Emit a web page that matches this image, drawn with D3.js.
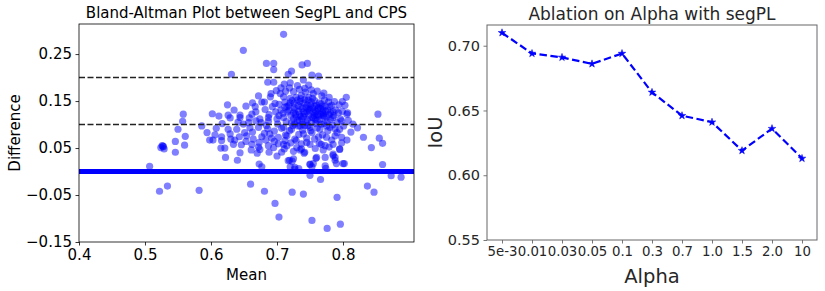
<!DOCTYPE html>
<html>
<head>
<meta charset="utf-8">
<script src="https://cdn.jsdelivr.net/npm/d3@7"></script>
<style>
  body { margin: 0; background: #fff; }
  text { font-family: "DejaVu Sans", sans-serif; }
</style>
</head>
<body>
<script>
var w = 825;
var h = 291;

// Bland-Altman data: [mean, difference]
var baPoints = [
  [0.558,0.122],[0.557,0.107],[0.550,0.090],[0.561,0.075],[0.546,0.064],[0.560,0.056],
  [0.527,0.054],[0.526,0.055],[0.528,0.053],[0.524,0.051],[0.529,0.048],[0.546,0.041],
  [0.507,0.011],[0.534,-0.031],[0.522,-0.042],[0.582,-0.040],
  [0.853,0.122],[0.822,0.093],[0.831,0.073],[0.855,0.071],[0.860,0.060],[0.843,0.051],
  [0.860,0.015],[0.873,-0.009],[0.888,-0.012],[0.837,-0.031],[0.847,-0.044],
  [0.710,0.292],[0.649,0.258],
  [0.660,-0.027],[0.681,-0.042],[0.697,-0.068],[0.703,-0.097],[0.723,-0.044],[0.740,-0.048],
  [0.750,-0.008],[0.766,-0.017],[0.791,-0.055],[0.753,-0.104],[0.776,-0.121],[0.796,-0.112],
  [0.673,0.016],[0.677,0.010],[0.720,0.010],[0.723,0.022],[0.727,0.005],[0.750,0.015],
  [0.755,0.017],[0.774,0.007],[0.788,0.024],[0.790,0.017],[0.802,0.017],[0.733,0.006],
  [0.622,0.030],[0.640,0.024],[0.644,0.040],[0.670,0.039],[0.674,0.047],[0.700,0.033],
  [0.707,0.041],[0.725,0.043],[0.719,0.024],[0.735,0.046],[0.741,0.039],[0.759,0.028],
  [0.770,0.046],[0.773,0.030],[0.785,0.037],[0.788,0.030],[0.795,0.047],
  [0.684,0.230],[0.695,0.230],[0.695,0.217],[0.631,0.207],[0.686,0.190],[0.695,0.190],
  [0.738,0.227],[0.746,0.230],[0.722,0.214],[0.717,0.207],[0.753,0.205],[0.763,0.203],
  [0.711,0.186],[0.720,0.189],[0.740,0.195],[0.748,0.184],[0.805,0.158],[0.807,0.125],
  [0.626,0.120],[0.644,0.120],[0.662,0.122],[0.653,0.139],[0.663,0.146],[0.672,0.161],
  [0.690,0.159],[0.677,0.148],[0.697,0.145],
  [0.629,0.114],[0.644,0.115],[0.658,0.114],[0.674,0.112],[0.687,0.115],[0.700,0.112],
  [0.626,0.090],[0.639,0.090],[0.594,0.083],[0.606,0.078],[0.616,0.074],[0.603,0.067],
  [0.616,0.066],[0.630,0.069],[0.643,0.074],[0.654,0.076],[0.664,0.069],[0.677,0.074],
  [0.689,0.080],[0.702,0.073],[0.646,0.057],[0.662,0.058],[0.673,0.062],[0.687,0.055],
  [0.695,0.051],[0.615,0.050],[0.621,0.050],[0.634,0.058],[0.629,0.080],[0.659,0.093],
  [0.672,0.094],[0.684,0.098],[0.649,0.101],
  [0.710,0.115],[0.725,0.112],[0.740,0.117],[0.755,0.114],[0.770,0.119],[0.785,0.115],
  [0.798,0.108],[0.806,0.122],[0.710,0.094],[0.722,0.090],[0.735,0.097],[0.750,0.094],
  [0.765,0.090],[0.780,0.094],[0.795,0.090],[0.715,0.076],[0.727,0.069],[0.740,0.080],
  [0.753,0.083],[0.763,0.074],[0.775,0.073],[0.788,0.076],[0.798,0.073],[0.710,0.058],
  [0.715,0.055],[0.730,0.051],[0.737,0.048],[0.750,0.058],[0.764,0.060],[0.773,0.055],
  [0.785,0.058],[0.795,0.048],[0.742,0.041],[0.760,0.030],
  [0.785,0.034],[0.717,0.023],[0.725,0.027],[0.750,0.016],[0.773,0.012],[0.800,0.017],
  [0.727,0.009],[0.753,0.010],
  [0.725,0.170],[0.734,0.175],[0.743,0.169],[0.755,0.166],[0.768,0.161],[0.778,0.148],
  [0.780,0.138],[0.785,0.127],[0.770,0.131],[0.760,0.141],[0.747,0.152],[0.735,0.149],
  [0.720,0.156],[0.710,0.159],[0.715,0.138],[0.727,0.131],[0.745,0.127],[0.758,0.124],
  [0.705,0.166],
  [0.682,0.132],[0.688,0.121],[0.693,0.138],[0.698,0.127],[0.703,0.143],[0.706,0.131],
  [0.709,0.124],[0.712,0.148],[0.714,0.106],[0.716,0.127],[0.718,0.141],[0.721,0.119],
  [0.723,0.151],[0.724,0.098],[0.726,0.136],[0.728,0.122],[0.729,0.158],[0.731,0.109],
  [0.732,0.141],[0.733,0.128],[0.736,0.117],[0.737,0.162],[0.738,0.134],[0.739,0.101],
  [0.741,0.146],[0.742,0.123],[0.744,0.137],[0.746,0.111],[0.748,0.158],[0.749,0.129],
  [0.751,0.142],[0.752,0.104],[0.754,0.135],[0.756,0.119],[0.757,0.151],[0.759,0.128],
  [0.761,0.109],[0.762,0.133],[0.764,0.146],[0.766,0.122],[0.767,0.101],[0.769,0.139],
  [0.771,0.117],[0.772,0.152],[0.774,0.128],[0.776,0.106],[0.777,0.131],[0.779,0.121],
  [0.781,0.111],[0.783,0.141],[0.784,0.099],[0.786,0.119],[0.789,0.131],[0.791,0.104],
  [0.793,0.125],[0.796,0.112],[0.799,0.128],[0.801,0.097],[0.803,0.141],[0.808,0.109],
  [0.812,0.084],[0.815,0.101],[0.806,0.067],[0.798,0.061],[0.791,0.083],[0.783,0.067],
  [0.777,0.087],[0.769,0.078],[0.761,0.093],[0.757,0.069],[0.751,0.087],[0.745,0.071],
  [0.739,0.088],[0.733,0.079],[0.727,0.101],[0.719,0.087],[0.713,0.078],[0.707,0.092],
  [0.701,0.101],[0.696,0.086],[0.692,0.071],[0.686,0.091],[0.681,0.081],[0.676,0.104],
  [0.668,0.108],[0.663,0.084],[0.657,0.104],[0.651,0.083],[0.641,0.105],[0.636,0.067],
  [0.668,0.127],[0.681,0.148],[0.691,0.166],[0.699,0.172],[0.706,0.178],[0.713,0.171],
  [0.719,0.178],[0.731,0.183],[0.742,0.177],[0.752,0.174],[0.761,0.171],[0.771,0.167],
  [0.779,0.158],[0.787,0.149],[0.794,0.142],[0.799,0.149],[0.702,0.059],[0.696,0.064],
  [0.712,0.066],[0.721,0.061],[0.745,0.062],[0.767,0.058],[0.779,0.052],[0.758,0.049],
  [0.711,0.048],[0.688,0.041],[0.661,0.046],[0.683,0.067],[0.672,0.052],[0.653,0.064],
  [0.667,0.138],[0.687,0.107],[0.734,0.108],[0.747,0.098],[0.763,0.118],[0.775,0.097],
  [0.788,0.091],[0.729,0.066],[0.737,0.059],[0.617,0.102],[0.608,0.092],[0.598,0.067],
  [0.586,0.097],[0.612,0.118],[0.635,0.131],[0.625,0.142],[0.602,0.123],
  [0.718,0.131],[0.722,0.104],[0.726,0.145],[0.729,0.116],[0.731,0.152],[0.734,0.121],
  [0.736,0.138],[0.738,0.112],[0.740,0.127],[0.742,0.153],[0.744,0.105],[0.746,0.142],
  [0.748,0.119],[0.750,0.133],[0.752,0.148],[0.753,0.115],[0.755,0.127],[0.757,0.139],
  [0.759,0.102],[0.761,0.121],[0.763,0.136],[0.765,0.111],[0.767,0.144],[0.769,0.126],
  [0.771,0.102],[0.773,0.139],[0.775,0.116],[0.720,0.146],[0.732,0.097],[0.747,0.134],
  [0.758,0.111],[0.770,0.123],[0.742,0.098],[0.725,0.125],[0.736,0.155],[0.754,0.156],
  [0.766,0.134],[0.781,0.125],[0.712,0.137],[0.703,0.119]
];
var baMeanLine = 0.0;
var baLimits = [0.2, 0.1];
var baXTicks = [0.4, 0.5, 0.6, 0.7, 0.8];
var baYTicks = [-0.15, -0.05, 0.05, 0.15, 0.25];

// ablation data
var alphas = ["5e-3", "0.01", "0.03", "0.05", "0.1", "0.3", "0.7", "1.0", "1.5", "2.0", "10"];
var iou = [0.710, 0.694, 0.691, 0.686, 0.694, 0.664, 0.646, 0.641, 0.619, 0.636, 0.613];
var iouTicks = [0.55, 0.60, 0.65, 0.70];

var svg = d3.select("body")
  .append("svg")
  .attr("width", w)
  .attr("height", h);

// ---------- left: Bland-Altman ----------
var L = {left: 79, right: 414, top: 24, bottom: 242};
var x1 = d3.scaleLinear().domain([0.4, 0.9076]).range([L.left, L.right]);
var y1 = d3.scaleLinear().domain([-0.15, 0.314]).range([L.bottom, L.top]);

var left = svg.append("g");

left.append("defs").append("clipPath").attr("id", "clipL")
  .append("rect")
  .attr("x", L.left).attr("y", L.top)
  .attr("width", L.right - L.left).attr("height", L.bottom - L.top);

var plotL = left.append("g").attr("clip-path", "url(#clipL)");

plotL.selectAll("circle")
  .data(baPoints)
  .enter()
  .append("circle")
  .attr("cx", function(d) { return x1(d[0]); })
  .attr("cy", function(d) { return y1(d[1]); })
  .attr("r", 3.6)
  .attr("fill", "blue")
  .attr("fill-opacity", 0.5);

plotL.append("line")
  .attr("x1", L.left).attr("x2", L.right)
  .attr("y1", y1(baMeanLine)).attr("y2", y1(baMeanLine))
  .attr("stroke", "blue")
  .attr("stroke-width", 5);

plotL.selectAll(".limit")
  .data(baLimits)
  .enter()
  .append("line")
  .attr("class", "limit")
  .attr("x1", L.left).attr("x2", L.right)
  .attr("y1", function(d) { return y1(d); })
  .attr("y2", function(d) { return y1(d); })
  .attr("stroke", "#222")
  .attr("stroke-width", 1.5)
  .attr("stroke-dasharray", "6,2.5");

var axL = left.append("g")
  .attr("transform", "translate(0," + L.bottom + ")")
  .call(d3.axisBottom(x1).tickValues(baXTicks).tickSize(3.5).tickPadding(3.5)
    .tickFormat(d3.format(".1f")));
var ayL = left.append("g")
  .attr("transform", "translate(" + L.left + ",0)")
  .call(d3.axisLeft(y1).tickValues(baYTicks).tickSize(3.5).tickPadding(3.5)
    .tickFormat(function(d) { return d3.format(".2f")(d).replace("-", "\u2212"); }));
[axL, ayL].forEach(function(a) {
  a.select(".domain").remove();
  a.selectAll("text").attr("font-size", 15).attr("fill", "#000")
    .attr("font-family", "DejaVu Sans");
  a.selectAll("line").attr("stroke", "#000").attr("stroke-width", 0.8);
});

left.append("rect")
  .attr("x", L.left).attr("y", L.top)
  .attr("width", L.right - L.left).attr("height", L.bottom - L.top)
  .attr("fill", "none")
  .attr("stroke", "#000")
  .attr("stroke-width", 0.8);

left.append("text")
  .attr("x", (L.left + L.right) / 2).attr("y", 18)
  .attr("text-anchor", "middle")
  .attr("font-size", 15)
  .text("Bland-Altman Plot between SegPL and CPS");
left.append("text")
  .attr("x", (L.left + L.right) / 2).attr("y", 280)
  .attr("text-anchor", "middle")
  .attr("font-size", 15)
  .text("Mean");
left.append("text")
  .attr("transform", "translate(20," + ((L.top + L.bottom) / 2) + ") rotate(-90)")
  .attr("text-anchor", "middle")
  .attr("font-size", 15)
  .text("Difference");

// ---------- right: ablation ----------
var R = {left: 487, right: 817, top: 25, bottom: 240};
var x2 = d3.scalePoint().domain(alphas).range([R.left, R.right]).padding(0.5);
var y2 = d3.scaleLinear().domain([0.55, 0.716]).range([R.bottom, R.top]);

var right = svg.append("g");

var axR = right.append("g")
  .attr("transform", "translate(0," + R.bottom + ")")
  .call(d3.axisBottom(x2).tickSize(3.5).tickPadding(3.5));
axR.selectAll("text").attr("font-size", 13.3);
var ayR = right.append("g")
  .attr("transform", "translate(" + R.left + ",0)")
  .call(d3.axisLeft(y2).tickValues(iouTicks).tickSize(3.5).tickPadding(3.5)
    .tickFormat(d3.format(".2f")));
ayR.selectAll("text").attr("font-size", 14.5);
[axR, ayR].forEach(function(a) {
  a.select(".domain").remove();
  a.selectAll("text").attr("fill", "#262626").attr("font-family", "DejaVu Sans");
  a.selectAll("line").attr("stroke", "#555").attr("stroke-width", 0.8);
});

right.append("rect")
  .attr("x", R.left).attr("y", R.top)
  .attr("width", R.right - R.left).attr("height", R.bottom - R.top)
  .attr("fill", "none")
  .attr("stroke", "#666")
  .attr("stroke-width", 1);

var line = d3.line()
  .x(function(d, i) { return x2(alphas[i]); })
  .y(function(d) { return y2(d); });

right.append("path")
  .datum(iou)
  .attr("d", line)
  .attr("fill", "none")
  .attr("stroke", "blue")
  .attr("stroke-width", 2.2)
  .attr("stroke-dasharray", "7.5,3.5");

right.selectAll(".star")
  .data(iou)
  .enter()
  .append("path")
  .attr("class", "star")
  .attr("d", d3.symbol().type(d3.symbolStar).size(18))
  .attr("transform", function(d, i) { return "translate(" + x2(alphas[i]) + "," + y2(d) + ")"; })
  .attr("fill", "blue")
  .attr("stroke", "blue")
  .attr("stroke-width", 0.5);

right.append("text")
  .attr("x", (R.left + R.right) / 2).attr("y", 20)
  .attr("text-anchor", "middle")
  .attr("font-size", 17)
  .attr("fill", "#262626")
  .text("Ablation on Alpha with segPL");
right.append("text")
  .attr("x", (R.left + R.right) / 2).attr("y", 283)
  .attr("text-anchor", "middle")
  .attr("font-size", 19.5)
  .attr("fill", "#262626")
  .text("Alpha");
right.append("text")
  .attr("transform", "translate(442," + ((R.top + R.bottom) / 2) + ") rotate(-90)")
  .attr("text-anchor", "middle")
  .attr("font-size", 19.5)
  .attr("fill", "#262626")
  .text("IoU");
</script>
</body>
</html>
